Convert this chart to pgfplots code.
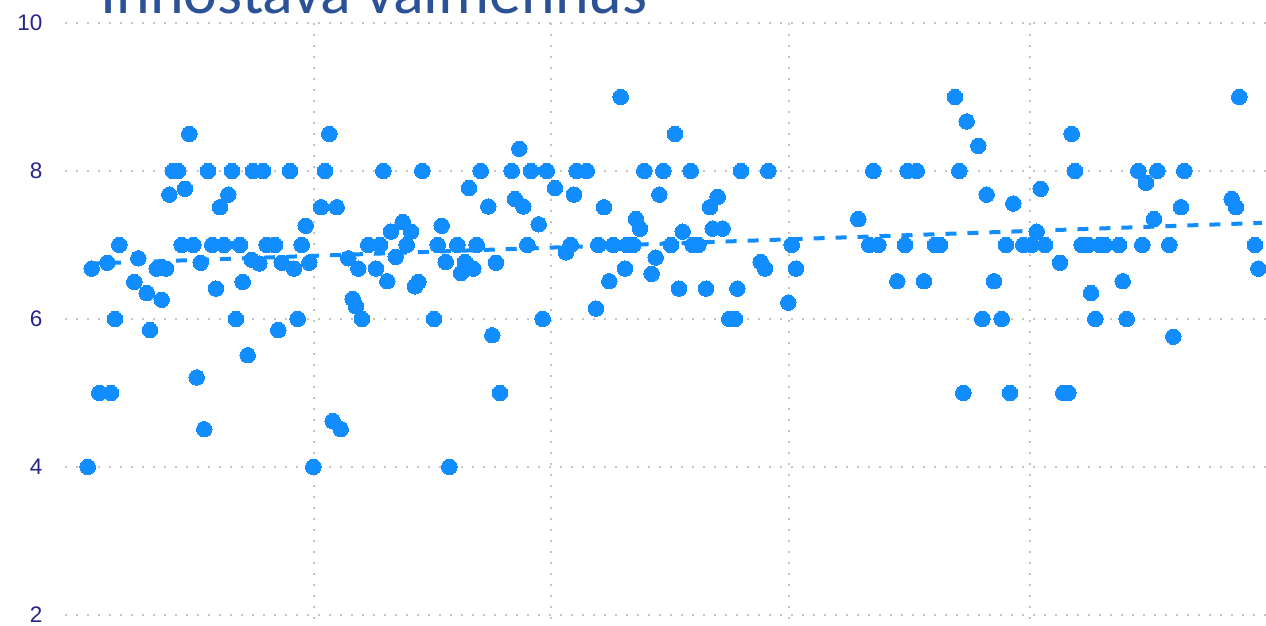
\documentclass[border=0pt]{standalone}
\usepackage{pgfplots}
\pgfplotsset{compat=1.18}
\usepackage{fontspec}
\setmainfont{Liberation Sans}
\newfontfamily\titlefont{Carlito}
\definecolor{pbblue}{HTML}{118DFF}
\definecolor{ticknavy}{RGB}{37,37,140}
\definecolor{titleblue}{RGB}{43,82,150}
\definecolor{gridgray}{RGB}{195,195,195}
\begin{document}
\begin{tikzpicture}
\useasboundingbox (0,0) rectangle (12.66cm,6.26cm);
\clip (0,0) rectangle (12.66cm,6.26cm);
\begin{axis}[
  at={(0.65cm,0cm)}, anchor=south west,
  scale only axis, width=12.01cm, height=6.26cm,
  xmin=65, xmax=1266, ymin=1.851, ymax=10.311,
  clip=false,
  axis line style={draw=none},
  major tick length=0pt,
  xtick=\empty,
  ytick={2,4,6,8,10},
  ymajorgrids=true,
  major grid style={gridgray, line width=0.022cm, dash pattern=on 0.022cm off 0.088cm},
  /pgf/number format/assume math mode=true,
  yticklabel style={font=\fontsize{6.4}{7}\selectfont, text=ticknavy, anchor=east, inner sep=0pt, xshift=-0.22cm},
]
\draw[gridgray, line width=0.022cm, dash pattern=on 0.022cm off 0.088cm] (axis cs:314,10) -- (axis cs:314,1.851);
\draw[gridgray, line width=0.022cm, dash pattern=on 0.022cm off 0.088cm] (axis cs:551,10) -- (axis cs:551,1.851);
\draw[gridgray, line width=0.022cm, dash pattern=on 0.022cm off 0.088cm] (axis cs:789,10) -- (axis cs:789,1.851);
\draw[gridgray, line width=0.022cm, dash pattern=on 0.022cm off 0.088cm] (axis cs:1030,10) -- (axis cs:1030,1.851);
\addplot[pbblue, only marks, mark=*, mark size=2.2pt, mark options={fill=pbblue, draw=pbblue, line width=0pt}] table {
x y
87.7 4.0
91.7 6.68
99.3 5.0
107.3 6.76
111 5.0
115 6.0
119.3 7.0
134.3 6.5
138.3 6.82
146.7 6.35
150 5.85
156.7 6.68
161.7 6.26
166 6.68
169.3 7.68
173 8.0
178 8.0
181.7 7.0
185 7.76
189.3 8.5
193.3 7.0
196.7 5.21
200.7 6.76
204.3 4.51
208 8.0
212.3 7.0
216 6.41
220 7.51
224 7.0
228.3 7.68
232 8.0
236 6.0
240 7.0
242.7 6.5
247.7 5.51
251.7 6.8
253 8.0
259.3 6.75
263 8.0
266.7 7.0
275 7.0
278.3 5.85
281.7 6.76
290 8.0
294 6.68
297.7 6.0
301.7 7.0
305.7 7.26
309.3 6.76
313.3 4.0
321 7.51
325 8.0
329.3 8.5
332.7 4.62
336.7 7.51
340.7 4.51
348.3 6.82
352.7 6.27
356 6.17
358.3 6.68
362 6.0
368.3 7.0
376 6.68
380 7.0
383.3 8.0
387.3 6.51
391 7.18
395.7 6.84
402.7 7.31
406.7 7.0
411 7.18
415 6.44
418.3 6.5
422.3 8.0
434 6.0
437.7 7.0
441.7 7.26
445.7 6.77
449.3 4.0
457.3 7.0
461 6.62
465 6.77
469 7.77
473.3 6.68
476.7 7.0
480.7 8.0
488.3 7.52
492.3 5.78
496 6.76
500 5.0
511.7 8.0
515 7.62
519.3 8.3
523.3 7.52
527.3 7.0
531 8.0
538.7 7.28
542.7 6.0
546.7 8.0
555 7.77
566 6.9
570.7 7.0
574 7.68
576.7 8.0
586.7 8.0
596 6.14
598.3 7.0
604 7.51
609.3 6.51
613.3 7.0
620.7 9.0
625 6.68
626.7 7.0
633.3 7.0
636 7.35
640 7.22
644.3 8.0
651.7 6.61
655.7 6.83
659.3 7.68
663.3 8.0
671 7.0
675 8.5
679 6.41
682.7 7.18
690.7 8.0
692.7 7.0
698.3 7.0
706 6.41
710 7.51
712.7 7.22
717.7 7.65
722.7 7.22
729.3 6.0
735 6.0
737.3 6.41
741 8.0
760.7 6.77
765 6.68
768.3 8.0
788.3 6.22
791.7 7.0
796 6.68
858.3 7.35
869.3 7.0
873.3 8.0
878.3 7.0
897.3 6.51
905 7.0
907.7 8.0
916.7 8.0
924 6.51
935 7.0
940 7.0
955 9.0
959.3 8.0
963.3 5.0
966.7 8.67
978.3 8.34
982.3 6.0
986.7 7.68
994 6.51
1001.7 6.0
1006 7.0
1010 5.0
1013.3 7.56
1023.3 7.0
1031.7 7.0
1036.7 7.18
1040.7 7.76
1045 7.0
1060 6.76
1063.3 5.0
1068.3 5.0
1071.7 8.5
1075 8.0
1081.7 7.0
1088.3 7.0
1091 6.35
1095.3 6.0
1100 7.0
1105 7.0
1119 7.0
1122.7 6.51
1126.7 6.0
1138.3 8.0
1142.3 7.0
1146 7.84
1154 7.35
1157.3 8.0
1169.3 7.0
1173.3 5.76
1181 7.51
1184.3 8.0
1231.7 7.62
1236 7.51
1239.3 9.0
1255 7.0
1258.3 6.68
};
\addplot[pbblue, line width=0.04cm, dash pattern=on 0.11cm off 0.11cm] coordinates {(88,6.747) (1262,7.299)};
\end{axis}
\node[anchor=base west, inner sep=0pt, text=titleblue, font=\titlefont\fontsize{18.2}{20}\selectfont] at (1.00cm,6.12cm) {Innostava valmennus};
\end{tikzpicture}
\end{document}
